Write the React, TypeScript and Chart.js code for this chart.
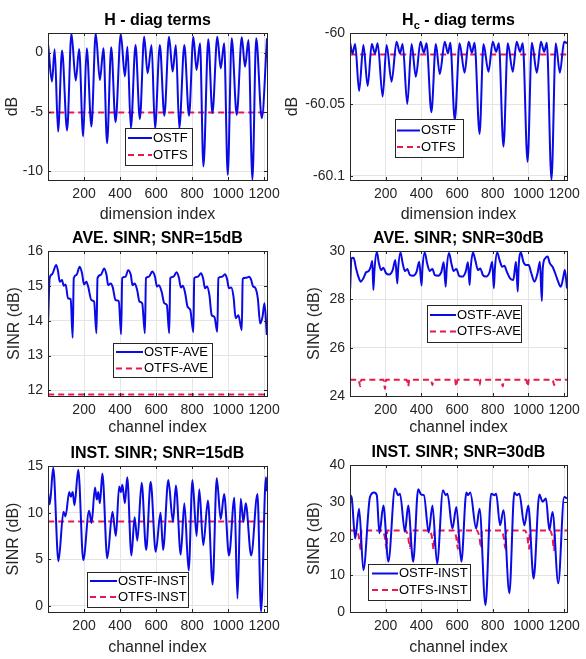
import React, { useEffect, useRef } from 'react';
import { Chart, registerables } from 'chart.js';
Chart.register(...registerables);

const W = 586;
const H = 659;
const FONT = "'Liberation Sans', Arial, Helvetica, sans-serif";
const AX = '#262626';
const GRID = '#e4e4e4';
const BLUE = '#0a0ae6';
const RED = '#e8184f';

const xTicks = [200, 400, 600, 800, 1000, 1200];
const X_MIN = 0;
const X_MAX = 1216;

// ---- H - diag terms ----
const hX = [1, 22, 37, 56, 78, 106, 130, 154, 173, 195, 215, 241, 265, 288, 308, 328, 351, 375, 404, 427, 441, 460, 486, 510, 534, 553, 575, 594, 621, 646, 672, 692, 710, 729, 757, 783, 807, 825, 844, 863, 890, 913, 940, 959, 978, 998, 1020, 1048, 1076, 1094, 1113, 1135, 1156, 1187, 1216];
const hOSTF = [0.64, -2.44, 0.28, -6.64, 0.17, -6.55, 1.62, -2.35, 0.31, -7.06, 0.36, -6.22, 1.62, -2.3, 0.36, -7.62, 0.45, -5.85, 1.57, -2.0, 0.5, -6.36, 0.64, -5.6, 1.34, -1.74, 0.64, -6.36, 0.64, -5.32, 1.34, -1.6, 0.64, -6.36, 0.64, -5.32, 1.34, -1.46, 0.78, -9.58, 1.12, -5.1, 1.34, -1.32, 0.78, -10.28, 1.2, -5.24, 1.29, -1.18, 1.06, -10.7, 1.2, -5.52, 1.2];
const hOTFSX = [1, 1216];
const hOTFS = [-5.05, -5.05];
const hYTicks = [-10, -5, 0];

// ---- Hc - diag terms ----
const hcX = [1, 14, 29, 51, 75, 99, 122, 140, 155, 183, 205, 233, 261, 280, 295, 321, 345, 369, 395, 414, 429, 456, 481, 503, 531, 549, 562, 587, 614, 642, 665, 683, 698, 726, 748, 776, 800, 819, 834, 860, 884, 912, 934, 953, 968, 995, 1019, 1047, 1070, 1088, 1103, 1129, 1153, 1176, 1200, 1216];
const hcOSTF = [-60.0072, -60.0143, -60.0077, -60.0407, -60.0084, -60.0371, -60.0077, -60.0143, -60.0072, -60.0446, -60.0084, -60.0341, -60.0061, -60.0143, -60.0077, -60.0498, -60.0077, -60.0306, -60.0061, -60.0138, -60.0072, -60.0556, -60.0077, -60.0287, -60.0061, -60.0143, -60.0068, -60.061, -60.0072, -60.0278, -60.0061, -60.0138, -60.0068, -60.0708, -60.0077, -60.0271, -60.0061, -60.0131, -60.0072, -60.0797, -60.0072, -60.0271, -60.0061, -60.0131, -60.0072, -60.0902, -60.0068, -60.0278, -60.0061, -60.0131, -60.0068, -60.103, -60.0072, -60.0278, -60.0061, -60.0072];
const hcOTFSX = [1, 1216];
const hcOTFS = [-60.015, -60.015];
const hcYTicks = [-60.1, -60.05, -60];

// ---- AVE. SINR; SNR=15dB ----
const a15X = [1, 9, 22, 46, 56, 65, 78, 87, 98, 111, 126, 137, 143, 158, 176, 189, 200, 213, 223, 241, 256, 269, 275, 293, 312, 325, 334, 349, 360, 375, 393, 406, 412, 430, 445, 460, 469, 482, 495, 508, 523, 538, 544, 560, 579, 594, 605, 616, 631, 646, 660, 673, 679, 696, 714, 727, 738, 749, 762, 775, 790, 807, 812, 831, 850, 861, 872, 883, 896, 909, 924, 940, 946, 965, 983, 994, 1005, 1017, 1030, 1042, 1057, 1076, 1081, 1098, 1117, 1128, 1139, 1150, 1165, 1178, 1191, 1202, 1215];
const a15OSTF = [14.02, 15.22, 15.33, 15.6, 15.41, 15.12, 15.17, 15.0, 15.04, 14.64, 14.62, 13.51, 15.22, 15.31, 15.55, 15.36, 15.04, 15.12, 14.98, 14.59, 14.55, 13.64, 15.22, 15.31, 15.5, 15.31, 15.02, 15.07, 14.95, 14.59, 14.56, 13.61, 15.22, 15.26, 15.45, 15.31, 15.02, 15.07, 14.88, 14.55, 14.5, 13.64, 15.22, 15.26, 15.41, 15.26, 14.98, 15.02, 14.83, 14.5, 14.45, 13.64, 15.22, 15.26, 15.39, 15.23, 14.95, 15.0, 14.78, 14.4, 14.31, 13.67, 15.22, 15.26, 15.36, 15.22, 14.93, 14.98, 14.74, 14.16, 14.11, 13.68, 15.22, 15.26, 15.33, 15.2, 14.93, 14.95, 14.69, 14.07, 14.16, 13.73, 15.2, 15.23, 15.26, 15.17, 14.98, 14.95, 14.64, 13.92, 14.11, 14.5, 13.59];
const a15OTFSX = [1, 1216];
const a15OTFS = [11.88, 11.88];
const a15YTicks = [12, 13, 14, 15, 16];

// ---- AVE. SINR; SNR=30dB ----
const a30X = [1, 8, 20, 34, 47, 60, 75, 90, 105, 116, 125, 131, 137, 150, 161, 174, 187, 202, 220, 239, 254, 265, 270, 283, 295, 308, 321, 336, 354, 373, 388, 401, 406, 419, 432, 447, 462, 475, 494, 512, 525, 536, 542, 555, 568, 581, 596, 611, 629, 648, 661, 670, 676, 689, 704, 717, 730, 745, 763, 782, 797, 806, 812, 825, 838, 853, 865, 879, 897, 915, 930, 940, 945, 958, 971, 986, 1001, 1016, 1034, 1051, 1064, 1075, 1080, 1094, 1107, 1120, 1135, 1150, 1165, 1181, 1194, 1204, 1216];
const a30OSTF = [28.45, 29.7, 29.72, 29.28, 28.94, 28.73, 28.87, 29.12, 29.17, 29.35, 29.59, 28.39, 29.21, 29.97, 29.53, 29.21, 29.31, 29.08, 29.03, 29.21, 29.63, 28.66, 29.28, 29.94, 29.49, 29.17, 29.26, 29.0, 28.98, 29.14, 29.56, 28.57, 29.28, 29.94, 29.49, 29.17, 29.26, 29.0, 28.98, 29.14, 29.53, 28.52, 29.28, 29.92, 29.49, 29.17, 29.26, 28.98, 28.94, 29.14, 29.53, 28.59, 29.28, 29.94, 29.56, 29.21, 29.28, 29.0, 28.94, 29.12, 29.56, 28.46, 29.28, 29.94, 29.63, 29.35, 29.39, 29.14, 28.87, 28.8, 29.56, 28.32, 29.35, 29.94, 29.56, 29.42, 29.42, 29.08, 28.73, 29.08, 29.56, 27.93, 29.28, 29.7, 29.77, 29.49, 29.35, 29.08, 28.76, 28.52, 28.87, 29.21, 28.45];
const a30OTFSX = [1, 49, 57, 63, 188, 196, 202, 318, 326, 332, 454, 462, 468, 588, 596, 602, 718, 726, 732, 848, 856, 862, 988, 996, 1002, 1136, 1144, 1150, 1216];
const a30OTFS = [24.67, 24.67, 24.4, 24.67, 24.67, 24.3, 24.67, 24.67, 24.4, 24.67, 24.67, 24.45, 24.67, 24.67, 24.4, 24.67, 24.67, 24.45, 24.67, 24.67, 24.4, 24.67, 24.67, 24.4, 24.67, 24.67, 24.45, 24.67, 24.67];
const a30YTicks = [24, 26, 28, 30];

// ---- INST. SINR; SNR=15dB ----
const i15X = [1, 10, 29, 58, 86, 97, 118, 127, 137, 147, 168, 196, 228, 242, 261, 271, 279, 288, 302, 329, 358, 377, 395, 405, 413, 427, 440, 463, 481, 496, 520, 545, 570, 598, 625, 639, 668, 694, 710, 737, 757, 781, 802, 825, 840, 862, 888, 914, 937, 959, 978, 1005, 1035, 1052, 1070, 1085, 1098, 1128, 1163, 1183, 1210, 1216];
const i15OSTF = [12.1, 10.9, 14.8, 4.8, 10.1, 9.6, 12.2, 11.7, 12.2, 10.8, 14.6, 4.9, 10.2, 8.9, 12.7, 11.4, 12.2, 11.0, 14.2, 5.1, 10.1, 7.5, 12.8, 12.2, 13.0, 11.0, 13.8, 5.4, 9.5, 7.0, 13.2, 6.0, 13.3, 5.8, 10.0, 6.0, 13.5, 9.0, 12.9, 5.5, 11.0, 3.8, 13.5, 7.5, 12.5, 6.5, 11.3, 2.3, 13.7, 9.3, 12.0, 5.4, 11.6, 0.8, 11.5, 9.0, 11.0, 5.4, 12.0, -0.6, 13.8, 12.3];
const i15OTFSX = [1, 1216];
const i15OTFS = [9.05, 9.05];
const i15YTicks = [0, 5, 10, 15];

// ---- INST. SINR; SNR=30dB ----
const i30X = [1, 10, 29, 51, 75, 112, 135, 150, 165, 187, 215, 252, 270, 280, 308, 326, 354, 382, 400, 414, 441, 462, 488, 521, 536, 546, 574, 596, 624, 652, 662, 674, 707, 726, 759, 791, 810, 819, 841, 860, 893, 921, 934, 949, 977, 999, 1029, 1061, 1079, 1098, 1117, 1135, 1167, 1200, 1216];
const i30OSTF = [31.8, 31.0, 20.0, 28.1, 11.4, 31.3, 32.5, 31.8, 21.4, 29.0, 13.7, 33.6, 31.8, 32.2, 21.8, 29.0, 13.7, 33.4, 31.9, 31.8, 21.6, 29.0, 13.2, 33.1, 31.8, 32.2, 22.7, 28.6, 13.7, 32.5, 31.8, 32.5, 22.7, 28.1, 1.9, 32.2, 31.8, 32.2, 23.6, 27.7, 5.1, 32.5, 31.8, 32.2, 23.6, 29.0, 9.1, 32.0, 30.0, 30.9, 22.3, 27.2, 7.8, 31.3, 30.9];
const i30OTFSX = [1, 36, 50, 60, 64, 181, 195, 205, 209, 312, 326, 336, 340, 445, 459, 469, 473, 581, 595, 605, 609, 711, 725, 735, 739, 847, 861, 871, 875, 980, 994, 1004, 1008, 1120, 1134, 1144, 1148, 1216];
const i30OTFS = [22.2, 22.2, 20.4, 17.0, 22.2, 22.2, 20.4, 17.2, 22.2, 22.2, 20.4, 17.4, 22.2, 22.2, 20.4, 17.0, 22.2, 22.2, 20.4, 17.2, 22.2, 22.2, 20.4, 17.4, 22.2, 22.2, 20.4, 17.2, 22.2, 22.2, 20.4, 17.2, 22.2, 22.2, 20.4, 16.8, 22.2, 22.2];
const i30YTicks = [0, 10, 20, 30, 40];

type Seg = { text: string; sub?: boolean };
type Series = { label: string; xs: number[]; ys: number[]; color: string; dash?: number[] };
type Panel = {
  area: number[];
  yMin: number;
  yMax: number;
  yTicks: number[];
  title: Seg[];
  xLabel: string;
  xLabelY: number;
  yLabel: string;
  yLabelX: number;
  legend: { x: number; y: number; w: number; h: number; rows: number[]; lineX: number[]; textX: number };
  series: Series[];
};

const panels: Panel[] = [
  {
    area: [48, 33, 267, 180], yMin: -10.72, yMax: 1.65, yTicks: hYTicks,
    title: [{ text: 'H - diag terms' }], xLabel: 'dimension index', xLabelY: 219, yLabel: 'dB', yLabelX: 13,
    legend: { x: 125, y: 128, w: 67, h: 37, rows: [138, 155], lineX: [128, 152], textX: 153 },
    series: [
      { label: 'OSTF', xs: hX, ys: hOSTF, color: BLUE },
      { label: 'OTFS', xs: hOTFSX, ys: hOTFS, color: RED, dash: [6, 4] },
    ],
  },
  {
    area: [350, 33, 567, 180], yMin: -60.103, yMax: -60, yTicks: hcYTicks,
    title: [{ text: 'H' }, { text: 'c', sub: true }, { text: ' - diag terms' }], xLabel: 'dimension index', xLabelY: 219, yLabel: 'dB', yLabelX: 293,
    legend: { x: 395, y: 119, w: 68, h: 38, rows: [130.5, 147], lineX: [397, 420], textX: 421 },
    series: [
      { label: 'OSTF', xs: hcX, ys: hcOSTF, color: BLUE },
      { label: 'OTFS', xs: hcOTFSX, ys: hcOTFS, color: RED, dash: [6, 4] },
    ],
  },
  {
    area: [48, 251, 267, 396], yMin: 11.84, yMax: 16, yTicks: a15YTicks,
    title: [{ text: 'AVE. SINR; SNR=15dB' }], xLabel: 'channel index', xLabelY: 432, yLabel: 'SINR (dB)', yLabelX: 14.5,
    legend: { x: 113, y: 343, w: 99, h: 34, rows: [352, 368.5], lineX: [116, 143], textX: 144 },
    series: [
      { label: 'OSTF-AVE', xs: a15X, ys: a15OSTF, color: BLUE },
      { label: 'OTFS-AVE', xs: a15OTFSX, ys: a15OTFS, color: RED, dash: [6, 4] },
    ],
  },
  {
    area: [350, 251, 567, 396], yMin: 24, yMax: 30, yTicks: a30YTicks,
    title: [{ text: 'AVE. SINR; SNR=30dB' }], xLabel: 'channel index', xLabelY: 432, yLabel: 'SINR (dB)', yLabelX: 315,
    legend: { x: 427, y: 305, w: 94, h: 37, rows: [315, 331.5], lineX: [430, 456], textX: 457 },
    series: [
      { label: 'OSTF-AVE', xs: a30X, ys: a30OSTF, color: BLUE },
      { label: 'OTFS-AVE', xs: a30OTFSX, ys: a30OTFS, color: RED, dash: [6, 4] },
    ],
  },
  {
    area: [48, 466, 267, 612], yMin: -0.65, yMax: 15, yTicks: i15YTicks,
    title: [{ text: 'INST. SINR; SNR=15dB' }], xLabel: 'channel index', xLabelY: 652, yLabel: 'SINR (dB)', yLabelX: 14,
    legend: { x: 87, y: 572, w: 101, h: 35, rows: [581, 597], lineX: [90, 117], textX: 118 },
    series: [
      { label: 'OSTF-INST', xs: i15X, ys: i15OSTF, color: BLUE },
      { label: 'OTFS-INST', xs: i15OTFSX, ys: i15OTFS, color: RED, dash: [6, 4] },
    ],
  },
  {
    area: [350, 465, 567, 612], yMin: 0, yMax: 40, yTicks: i30YTicks,
    title: [{ text: 'INST. SINR; SNR=30dB' }], xLabel: 'channel index', xLabelY: 652, yLabel: 'SINR (dB)', yLabelX: 315,
    legend: { x: 368, y: 564, w: 102, h: 36, rows: [573.5, 590], lineX: [372, 398], textX: 399 },
    series: [
      { label: 'OSTF-INST', xs: i30X, ys: i30OSTF, color: BLUE },
      { label: 'OTFS-INST', xs: i30OTFSX, ys: i30OTFS, color: RED, dash: [6, 4] },
    ],
  },
];

function decoPlugin(p: Panel) {
  return {
    id: 'deco',
    afterDraw(chart: any) {
      const ctx = chart.ctx;
      const a = chart.chartArea;
      const xs = chart.scales.x;
      const ys = chart.scales.y;
      ctx.save();
      // inner tick marks
      ctx.strokeStyle = AX;
      ctx.lineWidth = 1;
      ctx.setLineDash([]);
      ctx.beginPath();
      for (const v of xTicks) {
        const px = Math.round(xs.getPixelForValue(v)) + 0.5;
        ctx.moveTo(px, a.bottom);
        ctx.lineTo(px, a.bottom - 3);
        ctx.moveTo(px, a.top);
        ctx.lineTo(px, a.top + 3);
      }
      for (const v of p.yTicks) {
        const py = Math.round(ys.getPixelForValue(v)) + 0.5;
        ctx.moveTo(a.left, py);
        ctx.lineTo(a.left + 3, py);
        ctx.moveTo(a.right, py);
        ctx.lineTo(a.right - 3, py);
      }
      ctx.stroke();
      // box
      ctx.strokeRect(Math.round(a.left) + 0.5, Math.round(a.top) + 0.5, Math.round(a.right - a.left), Math.round(a.bottom - a.top));

      // title
      ctx.fillStyle = '#000';
      ctx.textBaseline = 'alphabetic';
      ctx.textAlign = 'left';
      const big = `bold 16px ${FONT}`;
      const small = `bold 11px ${FONT}`;
      let total = 0;
      const widths = p.title.map((s) => {
        ctx.font = s.sub ? small : big;
        const w = ctx.measureText(s.text).width;
        total += w;
        return w;
      });
      let tx = (a.left + a.right) / 2 - total / 2;
      const ty = a.top - 8;
      p.title.forEach((s, i) => {
        ctx.font = s.sub ? small : big;
        ctx.fillText(s.text, tx, s.sub ? ty + 4 : ty);
        tx += widths[i];
      });

      // axis labels
      ctx.fillStyle = AX;
      ctx.font = `16px ${FONT}`;
      ctx.textAlign = 'center';
      ctx.fillText(p.xLabel, (a.left + a.right) / 2, p.xLabelY);
      ctx.save();
      ctx.translate(p.yLabelX, (a.top + a.bottom) / 2);
      ctx.rotate(-Math.PI / 2);
      ctx.textBaseline = 'middle';
      ctx.fillText(p.yLabel, 0, 0);
      ctx.restore();

      // legend
      const L = p.legend;
      ctx.fillStyle = '#fff';
      ctx.fillRect(L.x, L.y, L.w, L.h);
      ctx.strokeStyle = AX;
      ctx.lineWidth = 1;
      ctx.strokeRect(L.x + 0.5, L.y + 0.5, L.w, L.h);
      chart.data.datasets.forEach((ds: any, i: number) => {
        const y = L.rows[i];
        ctx.strokeStyle = ds.borderColor;
        ctx.lineWidth = ds.borderWidth;
        ctx.setLineDash(ds.borderDash || []);
        ctx.beginPath();
        ctx.moveTo(L.lineX[0], y);
        ctx.lineTo(L.lineX[1], y);
        ctx.stroke();
        ctx.setLineDash([]);
        ctx.fillStyle = '#000';
        ctx.font = `13px ${FONT}`;
        ctx.textAlign = 'left';
        ctx.textBaseline = 'middle';
        ctx.fillText(ds.label, L.textX, y);
      });
      ctx.restore();
    },
  };
}

const XH = 30;

function PanelChart({ p }: { p: Panel }) {
  const ref = useRef<HTMLCanvasElement>(null);
  useEffect(() => {
    const [l, t, r, b] = p.area;
    const tickFont = { family: FONT, size: 14 };
    const chart = new Chart(ref.current as HTMLCanvasElement, {
      type: 'line',
      data: {
        datasets: p.series.map((s) => ({
          label: s.label,
          data: s.xs.map((x, i) => ({ x, y: s.ys[i] })),
          borderColor: s.color,
          backgroundColor: s.color,
          borderWidth: 2,
          borderDash: s.dash || [],
          pointRadius: 0,
          cubicInterpolationMode: 'monotone',
          fill: false,
          clip: 0,
        })),
      },
      options: {
        responsive: false,
        animation: false,
        events: [],
        layout: { padding: { left: 0, top: t, right: W - r, bottom: H - b - XH } },
        plugins: { legend: { display: false }, title: { display: false }, tooltip: { enabled: false } },
        scales: {
          x: {
            type: 'linear',
            min: X_MIN,
            max: X_MAX,
            afterBuildTicks: (s: any) => { s.ticks = xTicks.map((v) => ({ value: v })); },
            afterFit: (s: any) => { s.height = XH; },
            grid: { color: GRID, lineWidth: 1, drawTicks: false },
            border: { display: false },
            ticks: { font: tickFont, color: AX, padding: 6, maxRotation: 0, autoSkip: false, callback: (v: any) => String(v) },
          },
          y: {
            type: 'linear',
            min: p.yMin,
            max: p.yMax,
            afterBuildTicks: (s: any) => { s.ticks = p.yTicks.map((v) => ({ value: v })); },
            afterFit: (s: any) => { s.width = l; },
            grid: { color: GRID, lineWidth: 1, drawTicks: false },
            border: { display: false },
            ticks: { font: tickFont, color: AX, padding: 5, autoSkip: false, callback: (v: any) => String(v) },
          },
        },
      } as any,
      plugins: [decoPlugin(p)],
    });
    return () => chart.destroy();
  }, []);
  return <canvas ref={ref} width={W} height={H} style={{ position: 'absolute', left: 0, top: 0 }} />;
}

export default function App() {
  return (
    <div style={{ position: 'absolute', left: 0, top: 0, width: W, height: H, background: '#fff', overflow: 'hidden' }}>
      {panels.map((p, i) => (
        <PanelChart key={i} p={p} />
      ))}
    </div>
  );
}
